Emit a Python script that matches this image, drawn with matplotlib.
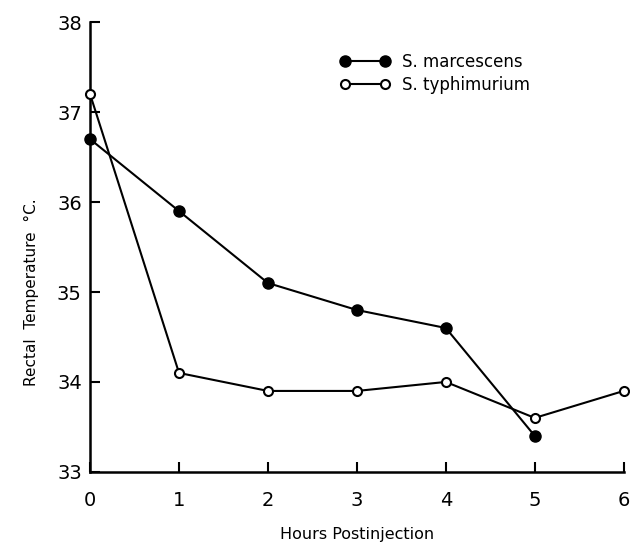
import numpy as np
import matplotlib.pyplot as plt

hours = [0, 1, 2, 3, 4, 5, 6]
marcescens_hours = [0, 1, 2, 3, 4, 5]
marcescens_temp = [36.7, 35.9, 35.1, 34.8, 34.6, 33.4]
typhimurium_temp = [37.2, 34.1, 33.9, 33.9, 34.0, 33.6, 33.9]
y_ticks = [33, 34, 35, 36, 37, 38]

fig = plt.figure(figsize=(6.3, 5.43), dpi=100)
ax = fig.add_axes([0.143, 0.131, 0.847, 0.828])

ax.plot(marcescens_hours, marcescens_temp, color='black', lw=1.5,
        marker='o', ms=8, mfc='black', mec='black', label='S. marcescens',
        clip_on=False, zorder=3)
ax.plot(hours, typhimurium_temp, color='black', lw=1.5,
        marker='o', ms=6.5, mfc='white', mec='black', mew=1.5,
        label='S. typhimurium', clip_on=False, zorder=3)

ax.set_xlim(0, 6)
ax.set_ylim(33, 38)
ax.set_xticks(hours)
ax.set_yticks(y_ticks)
ax.tick_params(direction='in', length=7, width=1.5, labelsize=14)
ax.tick_params(axis='x', pad=14)
ax.tick_params(axis='y', pad=6)
for s in ['top', 'right']:
    ax.spines[s].set_visible(False)
for s in ['left', 'bottom']:
    ax.spines[s].set_linewidth(1.8)

ax.set_xlabel('Hours Postinjection', fontsize=11.5)
ax.xaxis.set_label_coords(0.5, -0.14)
ax.xaxis.label.set_va('center')
ax.set_ylabel('Rectal  Temperature  °C.', fontsize=11)
ax.yaxis.set_label_coords(-0.095, 0.40)

ax.legend(loc='upper left', bbox_to_anchor=(0.44, 0.965), frameon=False,
          fontsize=12, handlelength=3.0, labelspacing=0.3, numpoints=2,
          handletextpad=0.7)

fig.savefig('out.png', dpi=100)
